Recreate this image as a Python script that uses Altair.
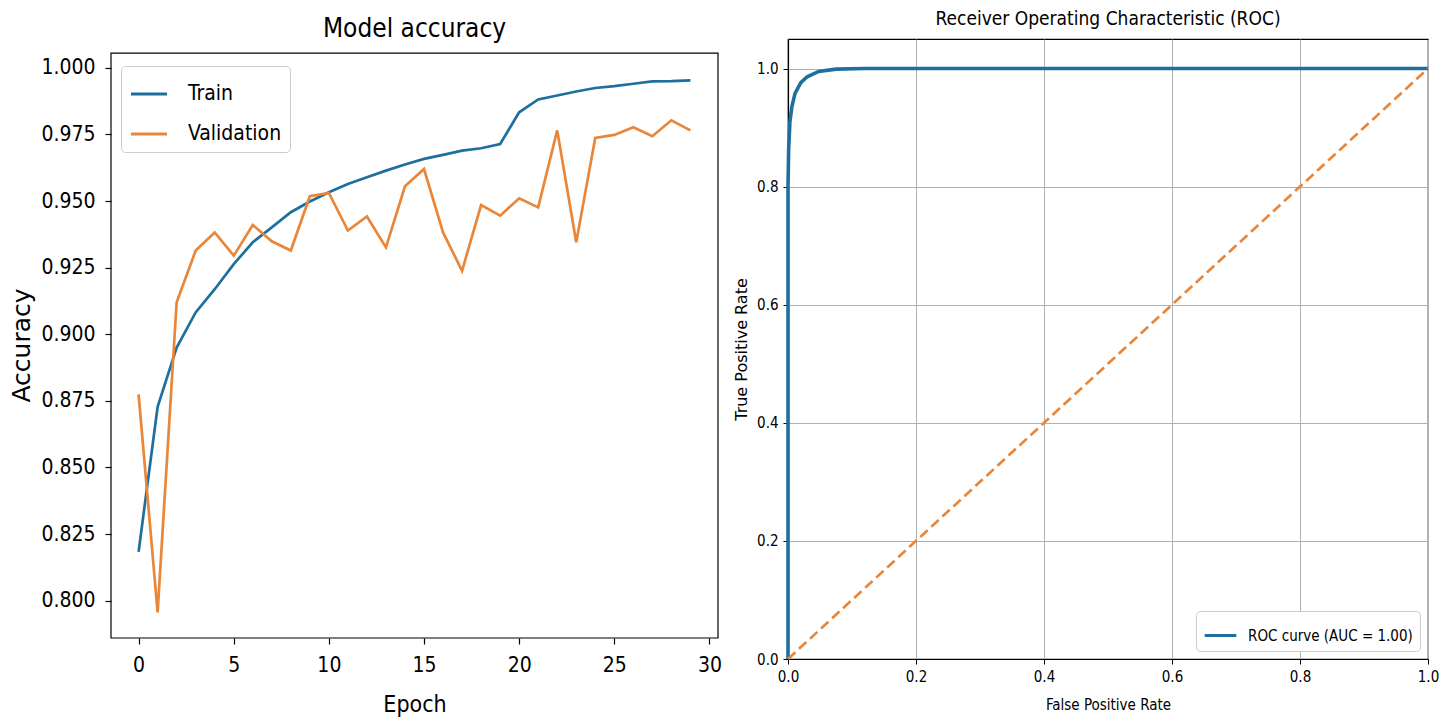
import altair as alt
import pandas as pd

# ---------------- data ----------------
epochs = list(range(30))
train_acc = [0.8183, 0.8728, 0.8950, 0.9082, 0.9169, 0.9263, 0.9345, 0.9401, 0.9458, 0.9498,
             0.9533, 0.9564, 0.9589, 0.9614, 0.9637, 0.9658, 0.9673, 0.9689, 0.9698, 0.9714,
             0.9833, 0.9881, 0.9896, 0.9911, 0.9924, 0.9931, 0.9940, 0.9949, 0.9950, 0.9953]
val_acc = [0.8774, 0.7956, 0.9120, 0.9314, 0.9382, 0.9295, 0.9410, 0.9349, 0.9314, 0.9518,
           0.9530, 0.9389, 0.9442, 0.9326, 0.9555, 0.9620, 0.9382, 0.9238, 0.9485, 0.9445,
           0.9510, 0.9476, 0.9765, 0.9345, 0.9737, 0.9748, 0.9777, 0.9743, 0.9803, 0.9765]
series_names = ["Train", "Validation"]

fpr = [0.0, 0.0, 0.001, 0.003, 0.006, 0.011, 0.020, 0.030, 0.048, 0.075, 0.120, 1.0]
tpr = [0.0, 0.80, 0.862, 0.910, 0.935, 0.958, 0.976, 0.986, 0.995, 0.999, 1.0, 1.0]
roc_label = "ROC curve (AUC = 1.00)"
diag_x = [0.0, 1.0]
diag_y = [0.0, 1.0]

acc_ticks = [0.800, 0.825, 0.850, 0.875, 0.900, 0.925, 0.950, 0.975, 1.000]
epoch_ticks = [0, 5, 10, 15, 20, 25, 30]
rate_ticks = [0.0, 0.2, 0.4, 0.6, 0.8, 1.0]

# axis limits of the accuracy panel (frame) and the blank band above it
epoch_lim = [-1.45, 30.45]
acc_lim = [0.786, 1.0055]
acc_view_top = 1.0108

# ---------------- style ----------------
FONT_C = "DejaVu Sans Condensed, DejaVu Sans"
FONT = "DejaVu Sans"
BLUE = "#1f6f9e"
ORANGE = "#e8863a"

acc_df = pd.DataFrame({
    "Epoch": epochs + epochs,
    "Accuracy": train_acc + val_acc,
    "Series": [series_names[0]] * len(epochs) + [series_names[1]] * len(epochs),
})
roc_df = pd.DataFrame({"FPR": fpr, "TPR": tpr, "i": list(range(len(fpr))),
                       "Label": [roc_label] * len(fpr)})
diag_df = pd.DataFrame({"FPR": diag_x, "TPR": diag_y})
frame_df = pd.DataFrame({"x0": [epoch_lim[0]], "x1": [epoch_lim[1]],
                         "y0": [acc_lim[0]], "y1": [acc_lim[1]]})

left_axis = dict(domain=False, tickColor="black", tickSize=6, labelFlush=False,
                 tickWidth=1.2, labelFont=FONT_C, labelFontSize=21, labelColor="black",
                 titleFontWeight="normal", titleColor="black", grid=False, labelPadding=10)

x_epoch = alt.X("Epoch:Q",
                scale=alt.Scale(domain=epoch_lim, nice=False, zero=False),
                axis=alt.Axis(values=epoch_ticks, title="Epoch", titlePadding=18,
                              titleFont=FONT_C, titleFontSize=23, **left_axis))
y_acc = alt.Y("Accuracy:Q",
              scale=alt.Scale(domain=[acc_lim[0], acc_view_top], nice=False, zero=False),
              axis=alt.Axis(values=acc_ticks, format=".3f", title="Accuracy",
                            titlePadding=6, titleFont=FONT, titleFontSize=25,
                            titleY=306, **left_axis))

lines = alt.Chart(acc_df).mark_line(strokeWidth=2.7).encode(
    x=x_epoch, y=y_acc,
    color=alt.Color("Series:N",
                    scale=alt.Scale(domain=series_names, range=[BLUE, ORANGE]),
                    legend=alt.Legend(title=None, orient="none", legendX=10, legendY=27,
                                      labelFont=FONT_C, labelFontSize=21, labelColor="black",
                                      symbolType="stroke", symbolStrokeWidth=3,
                                      symbolSize=1300, padding=8, rowPadding=10,
                                      strokeColor="#cccccc", cornerRadius=4,
                                      fillColor="white", labelOffset=19)),
)
frame = alt.Chart(frame_df).mark_rect(filled=False, stroke="black", strokeWidth=1.2).encode(
    x=alt.X("x0:Q", scale=alt.Scale(domain=epoch_lim, nice=False, zero=False)),
    x2="x1:Q",
    y=alt.Y("y0:Q", scale=alt.Scale(domain=[acc_lim[0], acc_view_top], nice=False, zero=False)),
    y2="y1:Q",
)

left = alt.layer(lines, frame).properties(
    width=607, height=599,
    view=alt.ViewBackground(stroke="transparent"),
    title=alt.TitleParams("Model accuracy", font=FONT_C, fontSize=26,
                          fontWeight="normal", color="black", offset=-3),
)

right_axis = dict(domainColor="black", domainWidth=1.2, tickColor="black", tickSize=5,
                  tickWidth=1, labelFont=FONT_C, labelFontSize=15, labelColor="black",
                  titleFontWeight="normal", titleColor="black", labelFlush=False,
                  grid=True, gridColor="#b0b0b0", gridWidth=1, labelPadding=5,
                  values=rate_ticks, format=".1f")

x_rate = alt.X("FPR:Q", scale=alt.Scale(domain=[0, 1], nice=False, zero=False),
               axis=alt.Axis(title="False Positive Rate", titleFont=FONT_C, titleFontSize=15,
                             titlePadding=13, **right_axis))
y_rate = alt.Y("TPR:Q", scale=alt.Scale(domain=[0, 1.05], nice=False, zero=False),
               axis=alt.Axis(title="True Positive Rate", titleFont=FONT, titleFontSize=16,
                             titlePadding=7, **right_axis))

roc = alt.Chart(roc_df).mark_line(strokeWidth=3.6).encode(
    x=x_rate, y=y_rate, order=alt.Order("i:Q"),
    color=alt.Color("Label:N", scale=alt.Scale(domain=[roc_label], range=[BLUE]),
                    legend=alt.Legend(title=None, orient="bottom-right", offset=8,
                                      labelFont=FONT_C, labelFontSize=15, labelColor="black",
                                      labelLimit=0,
                                      symbolType="stroke", symbolStrokeWidth=3,
                                      symbolSize=1000, padding=7,
                                      strokeColor="#cccccc", cornerRadius=4,
                                      fillColor="white", labelOffset=10)),
)
diag = alt.Chart(diag_df).mark_line(strokeWidth=2.7, strokeDash=[10, 5], color=ORANGE).encode(
    x=x_rate, y=y_rate)

right = alt.layer(roc, diag).properties(
    width=640, height=620,
    title=alt.TitleParams("Receiver Operating Characteristic (ROC)", font=FONT_C, fontSize=19,
                          fontWeight="normal", color="black", offset=10),
)

chart = alt.hconcat(left, right, spacing=9).resolve_scale(color="independent").configure_view(
    stroke="black", strokeWidth=1.2
).properties(padding={"left": 1, "top": 1, "right": 0, "bottom": 0}, background="white")

chart.save("out.html", embed_options={"renderer": "svg", "actions": False})
